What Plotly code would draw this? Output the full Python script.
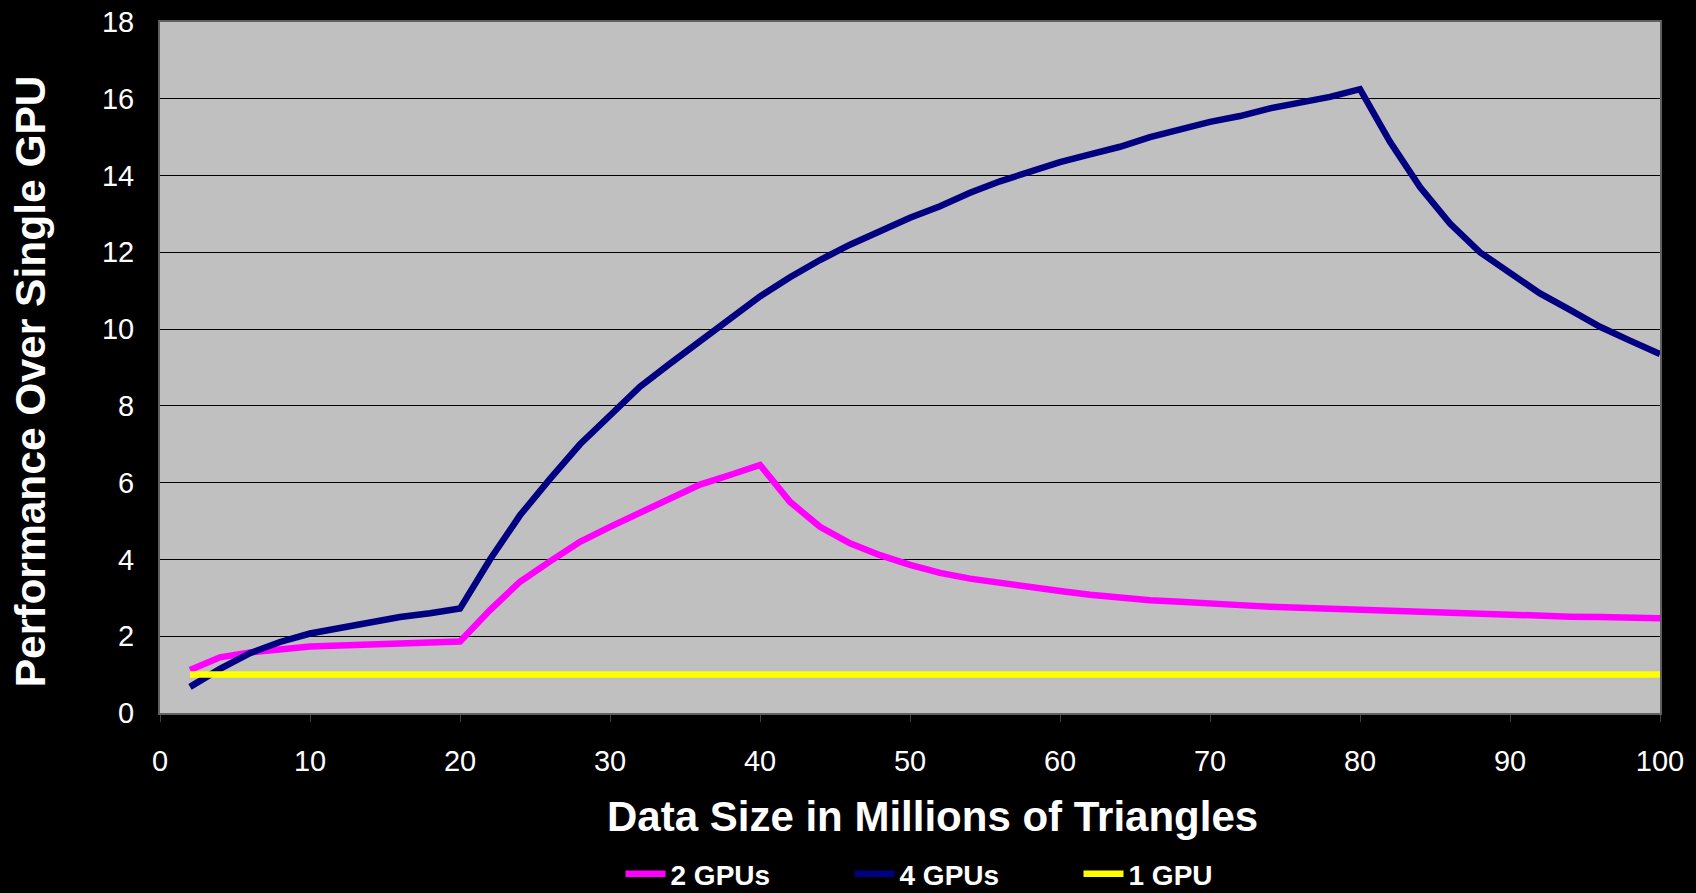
import plotly.graph_objects as go

x_millions = [2, 4, 6, 8, 10, 12, 14, 16, 18, 20, 22, 24, 26, 28, 30, 32, 34, 36, 38, 40,
              42, 44, 46, 48, 50, 52, 54, 56, 58, 60, 62, 64, 66, 68, 70, 72, 74, 76, 78, 80,
              82, 84, 86, 88, 90, 92, 94, 96, 98, 100]

gpu2 = [1.12, 1.45, 1.58, 1.66, 1.73, 1.76, 1.79, 1.82, 1.84, 1.86, 2.68, 3.42, 3.95, 4.46, 4.85,
        5.22, 5.6, 5.95, 6.2, 6.46, 5.5, 4.85, 4.42, 4.11, 3.86, 3.65, 3.5, 3.38, 3.27, 3.18,
        3.08, 3.0, 2.94, 2.9, 2.84, 2.81, 2.77, 2.74, 2.71, 2.68, 2.65, 2.62, 2.59, 2.57, 2.55,
        2.53, 2.51, 2.5, 2.48, 2.47]

gpu4 = [0.68, 1.15, 1.56, 1.85, 2.07, 2.22, 2.37, 2.5, 2.6, 2.72, 4.0, 5.15, 6.1, 7.0, 7.75,
        8.5, 9.1, 9.7, 10.3, 10.85, 11.35, 11.8, 12.2, 12.55, 12.9, 13.2, 13.55, 13.85, 14.1, 14.35,
        14.55, 14.75, 15.0, 15.2, 15.4, 15.55, 15.75, 15.9, 16.05, 16.25, 14.88, 13.7, 12.75, 12.0, 11.45,
        10.93, 10.5, 10.06, 9.7, 9.35]

gpu1 = [1.0] * len(x_millions)

series_names = ["2 GPUs", "4 GPUs", "1 GPU"]
series_colors = ["#FF00FF", "#000080", "#FFFF00"]
x_ticks = [0, 10, 20, 30, 40, 50, 60, 70, 80, 90, 100]
y_ticks = [0, 2, 4, 6, 8, 10, 12, 14, 16, 18]
x_title = "Data Size in Millions of Triangles"
y_title = "Performance Over Single GPU"

fig = go.Figure()
for name, vals, col in zip(series_names, [gpu2, gpu4, gpu1], series_colors):
    fig.add_trace(go.Scatter(x=x_millions, y=vals, mode="lines", name=name,
                             line=dict(color=col, width=6.5)))

FONT = "Liberation Sans, Arial, sans-serif"

fig.update_layout(
    width=1696, height=893,
    paper_bgcolor="#000000",
    plot_bgcolor="#C0C0C0",
    margin=dict(l=160, r=36, t=22, b=180, autoexpand=False),
    font=dict(family=FONT, color="white"),
    showlegend=True,
    legend=dict(orientation="h", x=0.536, xanchor="center", y=-0.233, yanchor="middle",
                font=dict(family=FONT, size=28, color="white", weight="bold"),
                bgcolor="rgba(0,0,0,0)", entrywidth=174, entrywidthmode="pixels",
                itemwidth=40, tracegroupgap=0),
    annotations=[
        dict(text=x_title, xref="paper", yref="paper", x=0.515, y=-0.1505,
             xanchor="center", yanchor="middle", showarrow=False,
             font=dict(family=FONT, size=42, color="white", weight="bold")),
        dict(text=y_title, xref="paper", yref="paper", x=-0.0867, y=0.480,
             xanchor="center", yanchor="middle", showarrow=False, textangle=-90,
             font=dict(family=FONT, size=42.5, color="white", weight="bold")),
    ],
)

fig.update_xaxes(
    range=[0, 100], tickvals=x_ticks, ticktext=[str(v) for v in x_ticks],
    showgrid=False, zeroline=False,
    showline=True, linecolor="#606060", linewidth=2, mirror=True,
    ticks="outside", ticklen=7, tickcolor="#404040", tickwidth=1,
    tickfont=dict(family=FONT, size=29, color="white"),
    ticklabelstandoff=14,
    automargin=False,
)
fig.update_yaxes(
    range=[0, 18], tickvals=y_ticks, ticktext=[str(v) for v in y_ticks],
    showgrid=True, gridcolor="#000000", gridwidth=1, zeroline=False,
    showline=True, linecolor="#606060", linewidth=2, mirror=True,
    ticks="outside", ticklen=8, tickcolor="#000000", tickwidth=1,
    tickfont=dict(family=FONT, size=29, color="white"),
    ticklabelstandoff=10,
    automargin=False,
)

fig.write_html("out.html",
               config={"displayModeBar": False},
               post_script="document.body.style.margin='0';document.body.style.background='black';document.body.style.overflow='hidden';")
